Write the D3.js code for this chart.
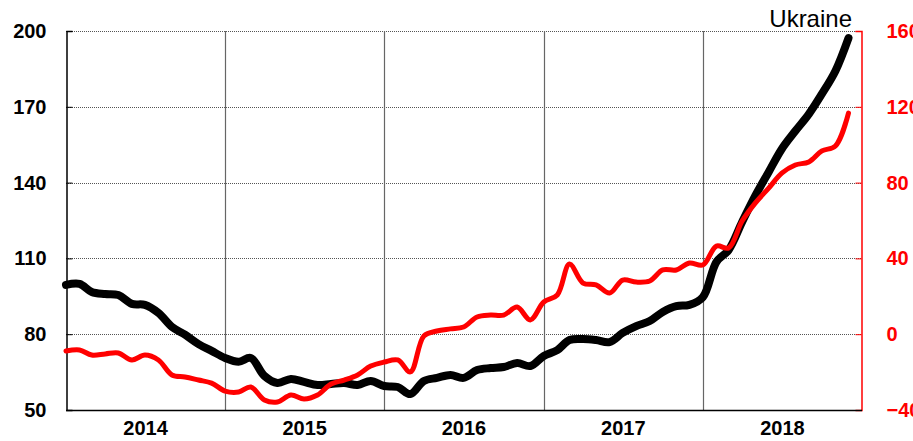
<!DOCTYPE html>
<html>
<head>
<meta charset="utf-8">
<script src="https://cdn.jsdelivr.net/npm/d3@7"></script>
<style>
  html, body { margin: 0; padding: 0; background: #fff; }
  svg { display: block; font-family: "Liberation Sans", Arial, sans-serif; }
</style>
</head>
<body>
<svg id="chart" width="913" height="441"></svg>
<script>
// monthly values, Jan 2014 .. Dec 2018
const firstMonth = new Date(2014, 0, 1);
const blackSeries = [
  99.5, 99.9, 96.7, 95.9, 95.5, 92.0, 91.6, 88.4, 82.9, 79.8, 76.1, 73.4,
  70.6, 69.1, 70.6, 63.5, 60.7, 62.3, 61.1, 59.9, 60.3, 60.7, 59.9, 61.5,
  59.5, 59.1, 56.3, 61.5, 62.7, 63.9, 62.7, 65.8, 66.6, 67.0, 68.6, 67.4,
  71.4, 73.7, 77.7, 78.1, 77.7, 76.9, 80.5, 83.2, 85.2, 88.8, 91.1, 91.6,
  94.7, 108.6, 113.3, 124.4, 134.7, 144.2, 153.3, 160.4, 167.1, 175.1, 184.2, 197.2
];
const redSeries = [
  -8.9, -8.3, -11.0, -10.4, -9.9, -13.6, -11.0, -13.6, -21.5, -22.6, -24.2, -25.8,
  -30.0, -30.5, -27.9, -34.7, -35.8, -32.1, -34.2, -32.1, -26.3, -24.2, -21.5, -16.8,
  -14.7, -13.6, -19.9, -0.9, 1.7, 2.8, 3.8, 9.1, 10.1, 10.1, 14.3, 7.5,
  17.0, 20.7, 37.0, 27.0, 26.0, 21.7, 28.6, 27.5, 28.1, 33.9, 33.9, 37.6,
  36.5, 46.5, 45.5, 59.7, 69.2, 77.1, 85.0, 89.3, 90.9, 96.7, 99.3, 116.7
];
const yearLabels = ["2014", "2015", "2016", "2017", "2018"];
const leftTicks = [50, 80, 110, 140, 170, 200];
const rightTicks = [-40, 0, 40, 80, 120, 160];
const title = "Ukraine";

const margin = { top: 31, right: 51, bottom: 31, left: 66 };
const width = 913, height = 441;
const innerW = width - margin.left - margin.right;
const innerH = height - margin.top - margin.bottom;

const svg = d3.select("#chart");
const g = svg.append("g").attr("transform", `translate(${margin.left},${margin.top})`);

const dates = blackSeries.map((d, i) => d3.timeMonth.offset(firstMonth, i));

const x = d3.scaleTime()
  .domain([new Date(2014, 0, 1), new Date(2019, 0, 1)])
  .range([0, innerW]);
const yLeft = d3.scaleLinear().domain([50, 200]).range([innerH, 0]);
const yRight = d3.scaleLinear().domain([-40, 160]).range([innerH, 0]);

// horizontal dotted gridlines
g.append("g")
  .selectAll("line")
  .data(leftTicks.slice(1))
  .join("line")
  .attr("x1", 0)
  .attr("x2", innerW)
  .attr("y1", d => Math.round(yLeft(d)) + 0.5)
  .attr("y2", d => Math.round(yLeft(d)) + 0.5)
  .attr("stroke", "#555")
  .attr("stroke-width", 1)
  .attr("stroke-dasharray", "1,1");

// vertical year separators
const yearStarts = yearLabels.slice(1).map(y => new Date(+y, 0, 1));
g.append("g")
  .selectAll("line")
  .data(yearStarts)
  .join("line")
  .attr("x1", d => Math.round(x(d)) + 0.5)
  .attr("x2", d => Math.round(x(d)) + 0.5)
  .attr("y1", 0)
  .attr("y2", innerH)
  .attr("stroke", "#666")
  .attr("stroke-width", 1.2);

// left axis
const leftAxis = g.append("g")
  .attr("transform", "translate(0.5,0)")
  .call(d3.axisLeft(yLeft).tickValues(leftTicks).tickSize(-6).tickPadding(20));
leftAxis.select(".domain").attr("stroke", "#000").attr("stroke-width", 1.5);
leftAxis.selectAll(".tick line").attr("stroke", "#000");
leftAxis.selectAll("text")
  .attr("font-size", 20)
  .attr("font-weight", "bold")
  .attr("fill", "#000")
  .attr("font-family", "Liberation Sans, Arial, sans-serif");

// right axis (red)
const rightAxis = g.append("g")
  .attr("transform", `translate(${innerW - 0.5},0)`)
  .call(d3.axisRight(yRight).tickValues(rightTicks).tickSize(-6).tickPadding(25));
rightAxis.select(".domain").attr("stroke", "#f00").attr("stroke-width", 1.5);
rightAxis.selectAll(".tick line").attr("stroke", "#f00");
rightAxis.selectAll("text")
  .attr("font-size", 20)
  .attr("font-weight", "bold")
  .attr("fill", "#f00")
  .attr("font-family", "Liberation Sans, Arial, sans-serif");

// bottom axis line
g.append("line")
  .attr("x1", 0).attr("x2", innerW)
  .attr("y1", innerH + 0.5).attr("y2", innerH + 0.5)
  .attr("stroke", "#000").attr("stroke-width", 1.5);

// year labels centred in each year
g.append("g")
  .selectAll("text")
  .data(yearLabels)
  .join("text")
  .attr("x", d => (x(new Date(+d, 0, 1)) + x(new Date(+d + 1, 0, 1))) / 2)
  .attr("y", innerH + 25)
  .attr("text-anchor", "middle")
  .attr("font-size", 20)
  .attr("font-weight", "bold")
  .text(d => d);

// series lines
const blackLine = d3.line()
  .x((d, i) => x(dates[i]))
  .y(d => yLeft(d))
  .curve(d3.curveCatmullRom.alpha(0.5));

const redLine = d3.line()
  .x((d, i) => x(dates[i]))
  .y(d => yRight(d))
  .curve(d3.curveCatmullRom.alpha(0.5));

g.append("path")
  .datum(blackSeries)
  .attr("fill", "none")
  .attr("stroke", "#000")
  .attr("stroke-width", 8)
  .attr("stroke-linecap", "round")
  .attr("stroke-linejoin", "round")
  .attr("d", blackLine);

g.append("path")
  .datum(redSeries)
  .attr("fill", "none")
  .attr("stroke", "#f00")
  .attr("stroke-width", 5)
  .attr("stroke-linecap", "round")
  .attr("stroke-linejoin", "round")
  .attr("d", redLine);

// title
svg.append("text")
  .attr("x", 852)
  .attr("y", 27)
  .attr("text-anchor", "end")
  .attr("font-size", 24)
  .attr("fill", "#000")
  .text(title);
</script>
</body>
</html>
